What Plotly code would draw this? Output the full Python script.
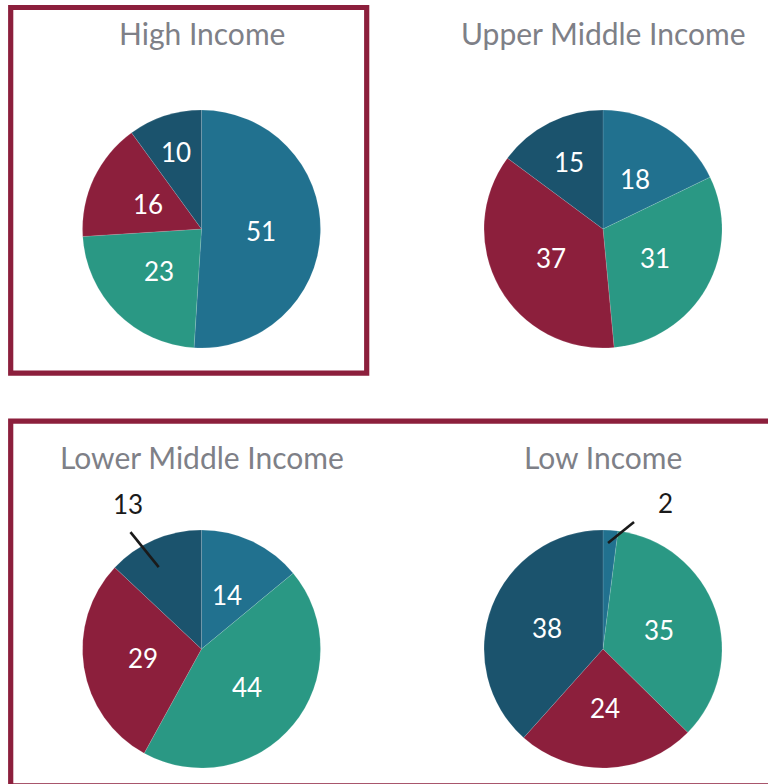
import math
import plotly.graph_objects as go

# ---------------- data ----------------
panel_titles = ["High Income", "Upper Middle Income", "Lower Middle Income", "Low Income"]
slice_names = ["Segment 1", "Segment 2", "Segment 3", "Segment 4"]
high_income = [51, 23, 16, 10]
upper_middle_income = [18, 31, 37, 15]
lower_middle_income = [14, 44, 29, 13]
low_income = [2, 35, 24, 38]
series_values = [high_income, upper_middle_income, lower_middle_income, low_income]

# ---------------- style ----------------
W, H = 768, 784
slice_colors = ["#21718F", "#2A9884", "#8C1F3C", "#1B536D"]
frame_color = "#8C1F3C"
title_color = "#7E8087"
FONT = "Lato"
centers = [(201.5, 229), (603, 229), (201.5, 649), (603, 649)]
R = 119
title_y = [33, 33, 457, 457]
label_r_default = 0.5
label_r_override = {(0, 3): 0.68, (1, 3): 0.63}
# outside labels: (angle offset deg, r factor) for leader start, leader end, text
outside = {
    (2, 3): dict(start=(-4.2, 0.776), end=(-7.9, 1.149), text=(-3.4, 1.362)),
    (3, 0): dict(start=(-0.9, 0.891), end=(10.1, 1.098), text=(19.7, 1.336)),
}


def px(x, y):
    return x / W, 1 - y / H


def polar(c, ang_deg, rf):
    a = math.radians(ang_deg)
    return c[0] + rf * R * math.sin(a), c[1] - rf * R * math.cos(a)


fig = go.Figure()
annotations = []
shapes = []

for i, (vals, title, c) in enumerate(zip(series_values, panel_titles, centers)):
    fig.add_trace(go.Pie(
        values=vals,
        labels=slice_names,
        sort=False,
        direction="clockwise",
        rotation=0,
        marker=dict(colors=slice_colors, line=dict(color="rgba(255,255,255,0.25)", width=0.5)),
        textinfo="none",
        hoverinfo="label+value",
        showlegend=False,
        domain=dict(x=[(c[0] - R) / W, (c[0] + R) / W],
                    y=[1 - (c[1] + R) / H, 1 - (c[1] - R) / H]),
    ))
    tx, ty = px(c[0], title_y[i])
    annotations.append(dict(
        text=title, x=tx, y=ty, xref="paper", yref="paper",
        xanchor="center", yanchor="middle", showarrow=False,
        font=dict(family=FONT, size=30, color=title_color),
    ))
    total = sum(vals)
    cum = 0
    for j, v in enumerate(vals):
        mid = (cum + v / 2) / total * 360
        cum += v
        if (i, j) in outside:
            o = outside[(i, j)]
            x0, y0 = polar(c, mid + o["start"][0], o["start"][1])
            x1, y1 = polar(c, mid + o["end"][0], o["end"][1])
            xt, yt = polar(c, mid + o["text"][0], o["text"][1])
            p0 = px(x0, y0)
            p1 = px(x1, y1)
            shapes.append(dict(type="line", xref="paper", yref="paper",
                               x0=p0[0], y0=p0[1], x1=p1[0], y1=p1[1],
                               line=dict(color="#1a1a1a", width=2.6)))
            pt = px(xt, yt)
            annotations.append(dict(
                text=str(v), x=pt[0], y=pt[1], xref="paper", yref="paper",
                xanchor="center", yanchor="middle", showarrow=False,
                font=dict(family=FONT, size=26, color="#1a1a1a"),
            ))
        else:
            rf = label_r_override.get((i, j), label_r_default)
            xl, yl = polar(c, mid, rf)
            pl = px(xl, yl)
            annotations.append(dict(
                text=str(v), x=pl[0], y=pl[1], xref="paper", yref="paper",
                xanchor="center", yanchor="middle", showarrow=False,
                font=dict(family=FONT, size=26, color="white"),
            ))

# frames
f1a = px(10.7, 7.5)
f1b = px(366.7, 373.2)
shapes.append(dict(type="rect", xref="paper", yref="paper",
                   x0=f1a[0], y0=f1a[1], x1=f1b[0], y1=f1b[1],
                   line=dict(color=frame_color, width=5.2), fillcolor="rgba(0,0,0,0)"))
f2a = px(10.7, 421.2)
f2b = px(790, 785.8)
shapes.append(dict(type="rect", xref="paper", yref="paper",
                   x0=f2a[0], y0=f2a[1], x1=f2b[0], y1=f2b[1],
                   line=dict(color=frame_color, width=5.2), fillcolor="rgba(0,0,0,0)"))

fig.update_layout(
    width=W, height=H,
    margin=dict(l=0, r=0, t=0, b=0),
    paper_bgcolor="white", plot_bgcolor="white",
    annotations=annotations, shapes=shapes,
    font=dict(family=FONT),
)

fig.write_html(
    "out.html",
    config={"displayModeBar": False},
    post_script="document.body.style.margin='0';document.body.style.overflow='hidden';",
)
